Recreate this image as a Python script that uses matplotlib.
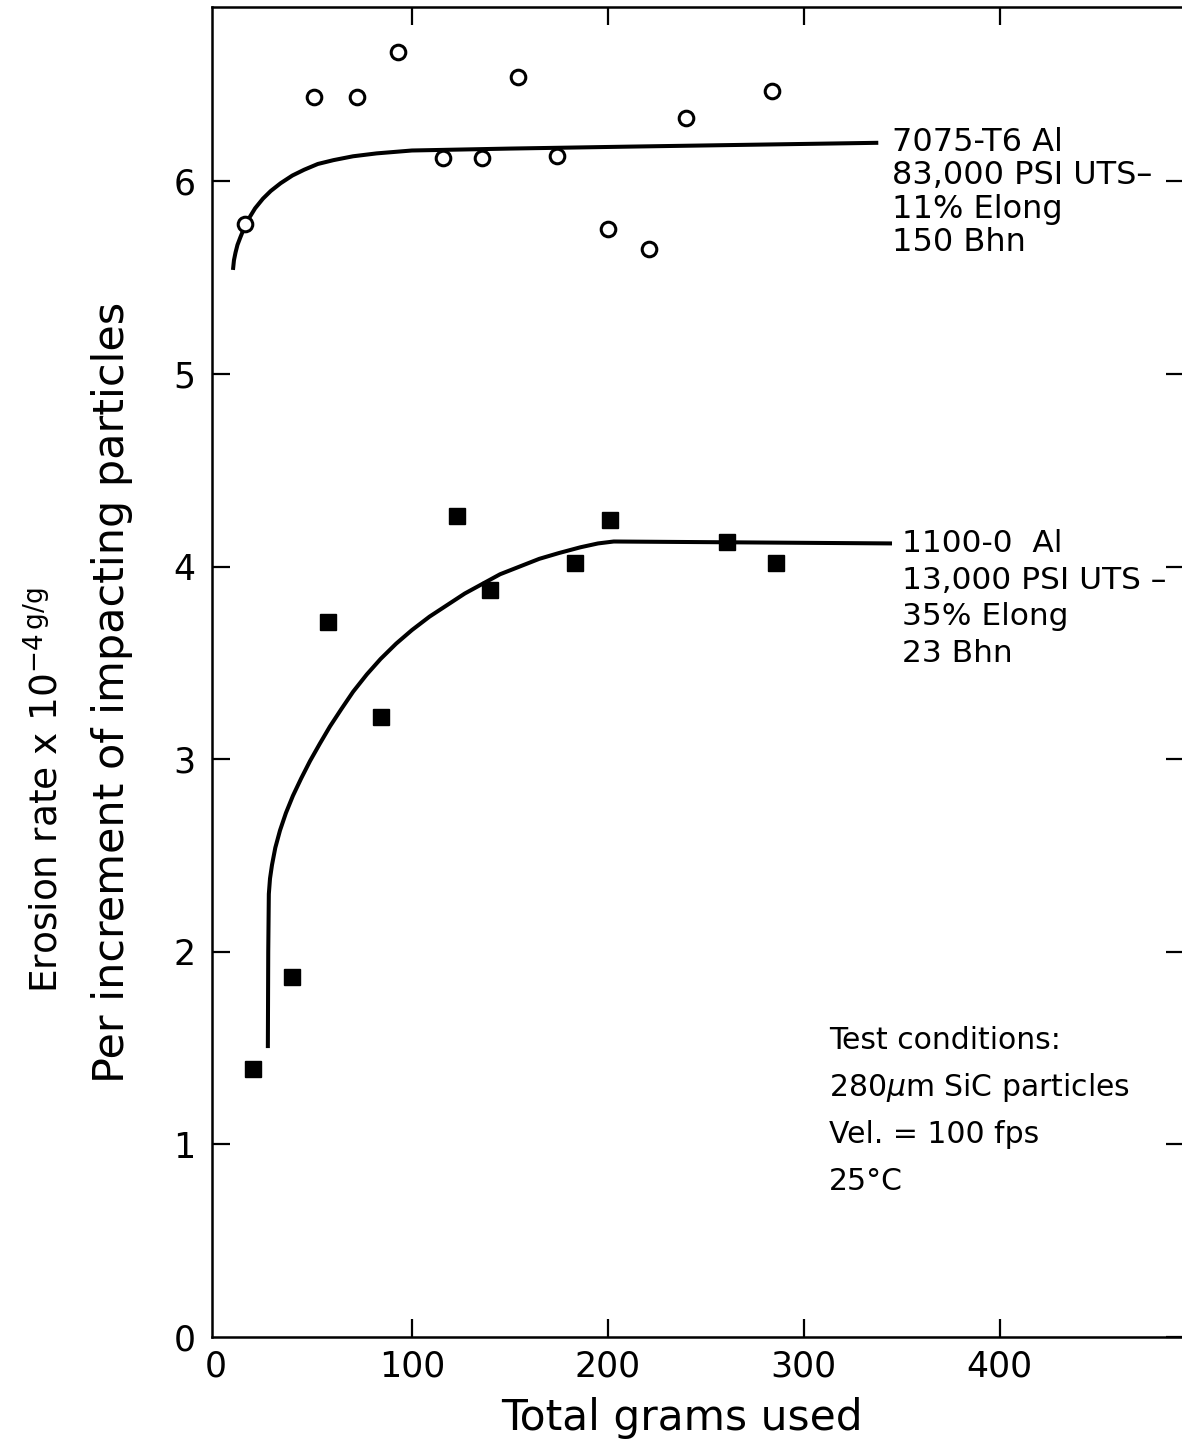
import matplotlib
matplotlib.use("Agg")
import matplotlib.pyplot as plt

###############################################################################
# Data

# 7075-T6 Al, open circles
al7075_x = [15, 50, 72, 93, 116, 136, 154, 174, 200, 221, 240, 284]
al7075_y = [5.78, 6.44, 6.44, 6.67, 6.12, 6.12, 6.54, 6.13, 5.75, 5.65, 6.33, 6.47]

# 1100-0 Al, filled squares
al1100_x = [19, 39, 57, 84, 123, 140, 183, 201, 261, 286]
al1100_y = [1.39, 1.87, 3.71, 3.22, 4.26, 3.88, 4.02, 4.24, 4.13, 4.02]

# hand-drawn trend curves
curve7075_x = [8.7, 9.2, 10.0, 11.0, 12.5, 14.5, 17, 20, 24, 28, 33, 39, 45, 52,
               60, 70, 82, 100, 150, 210, 338]
curve7075_y = [5.54, 5.59, 5.63, 5.67, 5.71, 5.76, 5.81, 5.86, 5.91, 5.95, 5.99,
               6.03, 6.06, 6.09, 6.11, 6.13, 6.145, 6.16, 6.17, 6.18, 6.20]

curve1100_x = [26.5, 26.7, 27, 27.6, 28.6, 30.3, 32.7, 35.7, 39.3, 43.5, 48, 53, 58.2,
               64, 70, 77, 84, 92, 100, 109, 118, 127, 136, 145, 155, 165, 175, 186,
               195, 203, 345]
curve1100_y = [1.50, 2.00, 2.30, 2.38, 2.45, 2.54, 2.63, 2.72, 2.81, 2.90, 2.99, 3.08,
               3.17, 3.26, 3.35, 3.44, 3.52, 3.60, 3.67, 3.74, 3.80, 3.86, 3.91, 3.96,
               4.00, 4.04, 4.07, 4.10, 4.12, 4.13, 4.12]

xticks = [0, 100, 200, 300, 400]
yticks = [0, 1, 2, 3, 4, 5, 6]

label7075 = ["7075-T6 Al", "83,000 PSI UTS\u2013", "11% Elong", "150 Bhn"]
label1100 = ["1100-0  Al", "13,000 PSI UTS \u2013", "35% Elong", "23 Bhn"]
conditions = ["Test conditions:", "280$\\mu$m SiC particles", "Vel. = 100 fps", "25\u00b0C"]

###############################################################################

W, H = 1182, 1444
fig = plt.figure(figsize=(W / 100, H / 100), dpi=100)
ax = fig.add_axes([212 / W, 1 - 1337 / H, (1184 - 212) / W, (1337 - 7) / H])

ax.plot(curve7075_x, curve7075_y, color="black", linewidth=2.9, solid_capstyle="butt")
ax.plot(curve1100_x, curve1100_y, color="black", linewidth=2.9, solid_capstyle="butt")
ax.plot(al7075_x, al7075_y, linestyle="none", marker="o", markersize=10.5,
        markerfacecolor="white", markeredgecolor="black", markeredgewidth=2.2)
ax.plot(al1100_x, al1100_y, linestyle="none", marker="s", markersize=11,
        color="black")

ax.set_xlim(-2, 494)
ax.set_ylim(0, 6.905)
ax.set_xticks(xticks)
ax.set_yticks(yticks)
ax.set_xticklabels([str(v) for v in xticks])
ax.set_yticklabels([str(v) for v in yticks])

ax.spines["right"].set_visible(False)
for s in ["left", "bottom", "top"]:
    ax.spines[s].set_linewidth(1.8)

ax.tick_params(axis="both", direction="in", width=1.6, labelsize=25,
               top=True, right=True)
ax.tick_params(axis="x", length=13, pad=9)
ax.tick_params(axis="y", length=13, pad=12)

# no tick marks sitting on the corner at x=0 / y=0
xt = ax.xaxis.get_major_ticks()[0]
xt.tick1line.set_visible(False)
xt.tick2line.set_visible(False)
yt = ax.yaxis.get_major_ticks()[0]
yt.tick1line.set_visible(False)

# text blocks next to curves
for i, s in enumerate(label7075):
    ax.text(345, 6.20 - i * 0.172, s, fontsize=23, va="center", ha="left")
for i, s in enumerate(label1100):
    ax.text(350, 4.12 - i * 0.19, s, fontsize=22.5, va="center", ha="left")
for i, s in enumerate(conditions):
    ax.text(313, 1.54 - i * 0.245, s, fontsize=21.5, va="center", ha="left")

fig.text(682 / W, 1 - 1418 / H, "Total grams used", fontsize=30.5,
         ha="center", va="center")
fig.text(45 / W, 1 - 790 / H, "Erosion rate x 10$^{-4\\,\\mathrm{g/g}}$",
         fontsize=27, rotation=90, ha="center", va="center")
fig.text(112 / W, 1 - 692 / H, "Per increment of impacting particles",
         fontsize=31, rotation=90, ha="center", va="center")

fig.savefig("out.png", dpi=100)
